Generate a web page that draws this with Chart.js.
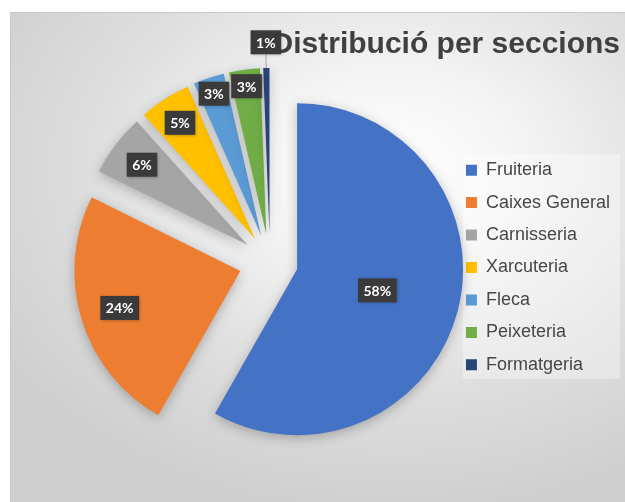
<!DOCTYPE html>
<html>
<head>
<meta charset="utf-8">
<script src="https://cdn.jsdelivr.net/npm/chart.js@4/dist/chart.umd.min.js"></script>
<style>
  html, body { margin: 0; padding: 0; background: #ffffff; overflow: hidden; }
  #wrap {
    position: absolute; left: 10px; top: 12px; width: 615px; height: 490px;
    border-top: 1px solid #c8c8c8; border-left: 1px solid #c8c8c8;
    background: radial-gradient(ellipse 75% 70% at 62% 32%, #ffffff 0%, #f3f3f3 30%, #dedede 65%, #cfcfcf 100%);
  }
  canvas { position: absolute; left: -1px; top: -1px; }
</style>
</head>
<body>
<div id="wrap"><canvas id="myPieChart" width="615" height="490"></canvas></div>
<script>
// dades del gràfic
const sections = ['Fruiteria', 'Caixes General', 'Carnisseria', 'Xarcuteria', 'Fleca', 'Peixeteria', 'Formatgeria'];
const shares = [58, 24, 6, 5, 3, 3, 0.6];
const colours = ['#4472C4', '#ED7D31', '#A5A5A5', '#FFC000', '#5B9BD5', '#70AD47', '#264478'];

// separació de cada porció (px) i posició de l'etiqueta (fracció del radi)
const explode = [28, 31, 28, 28, 28, 28, 28];
const labelPos = [0.5, 0.76, 0.8, 0.83, 0.9, 0.9, 1.155];

const total = shares.reduce((a, b) => a + b, 0);

const explodePlugin = {
    id: 'explode',
    afterDatasetsUpdate(chart) {
        const arcs = chart.getDatasetMeta(0).data;
        arcs.forEach((arc, i) => {
            const mid = (arc.startAngle + arc.endAngle) / 2;
            arc.x += Math.cos(mid) * explode[i];
            arc.y += Math.sin(mid) * explode[i];
        });
    },
    beforeDraw(chart) {
        // fons clar darrere de la llegenda
        const boxes = chart.legend.legendHitBoxes;
        if (!boxes || !boxes.length) return;
        const first = boxes[0], last = boxes[boxes.length - 1];
        const ctx = chart.ctx;
        ctx.save();
        ctx.fillStyle = 'rgba(255,255,255,0.35)';
        ctx.fillRect(first.left - 3, first.top - 7, chart.width - first.left - 2, last.top + last.height - first.top + 12);
        ctx.restore();
    },
    beforeDatasetsDraw(chart) {
        const ctx = chart.ctx;
        ctx.save();
        ctx.shadowColor = 'rgba(0,0,0,0.25)';
        ctx.shadowBlur = 12;
        ctx.shadowOffsetY = 3;
    },
    afterDatasetsDraw(chart) {
        const ctx = chart.ctx;
        ctx.restore();
        const arcs = chart.getDatasetMeta(0).data;
        ctx.save();
        ctx.font = 'bold 14px Lato';
        ctx.textAlign = 'center';
        ctx.textBaseline = 'middle';
        arcs.forEach((arc, i) => {
            const mid = (arc.startAngle + arc.endAngle) / 2;
            const r = arc.outerRadius * labelPos[i];
            const x = arc.x + Math.cos(mid) * r;
            const y = arc.y + Math.sin(mid) * r;
            const text = Math.round(shares[i] / total * 100) + '%';
            const w = ctx.measureText(text).width + 11;
            const h = 24;
            if (labelPos[i] > 1) {
                ctx.strokeStyle = '#a6a6a6';
                ctx.lineWidth = 1;
                ctx.beginPath();
                ctx.moveTo(arc.x + Math.cos(mid) * arc.outerRadius, arc.y + Math.sin(mid) * arc.outerRadius);
                ctx.lineTo(x, y + h / 2);
                ctx.stroke();
            }
            ctx.shadowColor = 'rgba(0,0,0,0.3)';
            ctx.shadowBlur = 3;
            ctx.shadowOffsetX = 1;
            ctx.shadowOffsetY = 1;
            ctx.fillStyle = '#3a3a3a';
            ctx.fillRect(x - w / 2, y - h / 2, w, h);
            ctx.shadowColor = 'transparent';
            ctx.fillStyle = '#ffffff';
            ctx.fillText(text, x, y + 1);
        });
        ctx.restore();
    }
};

const data1 = {
    labels: sections,
    datasets: [
        {
            data: shares,
            backgroundColor: colours,
            borderWidth: 0,
            radius: 166,
            clip: false,
        },
    ],
};

const config = {
    type: 'pie',
    data: data1,
    options: {
        responsive: false,
        animation: false,
        layout: {
            padding: { left: 78.5, right: 5, top: 0, bottom: 41 },
        },
        plugins: {
            title: {
                display: true,
                text: 'Distribució per seccions',
                align: 'end',
                color: '#404040',
                font: { family: 'Liberation Sans', size: 30, weight: 'bold' },
                padding: { top: 15, bottom: 0 },
            },
            legend: {
                position: 'right',
                title: {
                    display: true,
                    text: ' ',
                    font: { size: 10, lineHeight: 1 },
                    padding: { top: 52, bottom: 0 },
                },
                labels: {
                    boxWidth: 11,
                    boxHeight: 11,
                    padding: 14.45,
                    color: '#474747',
                    font: { family: 'Liberation Sans', size: 18 },
                },
            },
            tooltip: { enabled: false },
        },
    },
    plugins: [explodePlugin],
};

var ctx = document.getElementById('myPieChart').getContext('2d');
var myPieChart = new Chart(ctx, config);
</script>
</body>
</html>
